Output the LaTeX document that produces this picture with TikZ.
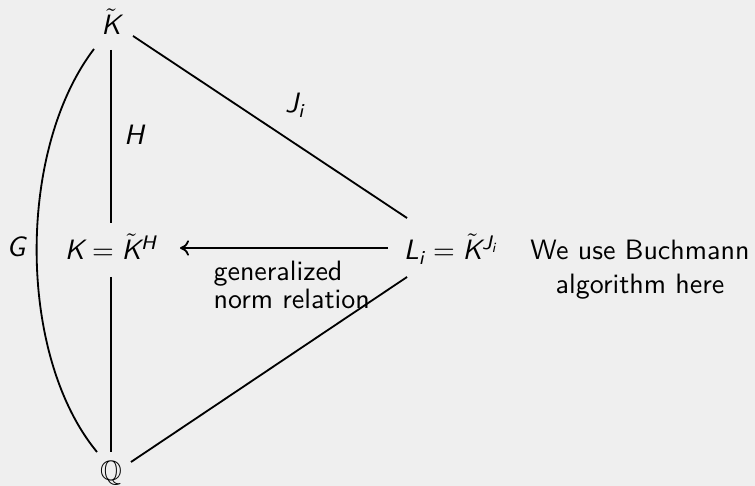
\documentclass[tikz,border=0pt]{standalone}
\usepackage{amssymb}
\DeclareSymbolFont{letters}{TU}{lmss}{m}{sl}
\usetikzlibrary{calc,arrows.meta}
\definecolor{bgcol}{RGB}{239,239,239}
\tikzset{
  lbl/.style={inner sep=0pt, anchor=base, font=\sffamily},
  edge/.style={line width=0.65pt},
}
\begin{document}
\begin{tikzpicture}[x=0.3571pt, y=-0.3571pt]
  \fill[bgcol] (0,0) rectangle (755,486);
  \useasboundingbox (0,0) rectangle (755,486);
  \node[lbl] (Kt) at (111,35) {$\tilde K$};
  \node[lbl] (K)  at (111,260) {$K = \tilde K^H$};
  \node[lbl] (L)  at (451,260) {$L_i = \tilde K^{J_i}$};
  \node[lbl] (Q)  at (111,480) {$\mathbb{Q}$};
  \node[lbl] (G)  at (16,256) {$G$};
  \node[lbl] (H)  at (134,145) {$H$};
  \node[lbl] (J)  at (295,113) {$J_i$};
  \node[inner sep=0pt, anchor=north, align=center, font=\sffamily] (note) at (640,240) {We use Buchmann\\algorithm here};
  \node[inner sep=0pt, anchor=north west, align=left, font=\sffamily\fontsize{10}{8.2}\selectfont] (norm) at (213,261) {generalized\\norm relation};
  \draw[edge] ($(Kt.base)+(0,15)$) -- ($(K.base)+(0,-37)$);
  \draw[edge] ($(K.base)+(0,17)$) -- ($(Q.base)+(0,-28)$);
  \draw[edge] ($(Kt.base)+(-17,14)$) .. controls (17,150) and (17,355) .. ($(Q.base)+(-14,-28)$);
  \draw[edge] ($(Kt.base)+(22,1)$) -- ($(L.base)+(-44,-42)$);
  \draw[edge] ($(L.base)+(-44,17)$) -- ($(Q.base)+(20,-18)$);
  \draw[edge,-{To[length=3.2pt,width=5.5pt]}] ($(L.base)+(-63,-12)$) -- ($(K.base)+(69,-12)$);
\end{tikzpicture}
\end{document}
